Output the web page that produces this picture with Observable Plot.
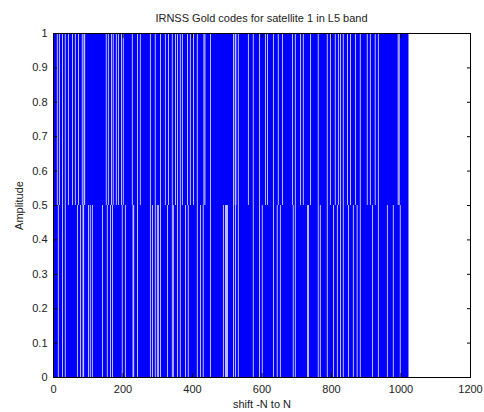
<!DOCTYPE html>
<html>
<head>
<meta charset="utf-8">
<script src="https://cdn.jsdelivr.net/npm/d3@7"></script>
<script src="https://cdn.jsdelivr.net/npm/@observablehq/plot@0.6"></script>
<style>
  body { margin: 0; background: #fff; }
  #title { width: 484px; box-sizing: border-box; padding: 12px 14px 0 53px; height: 28px;
           text-align: center; font: 11px "Liberation Sans", Arial, sans-serif; color: #222; line-height: 13px; }
</style>
</head>
<body>
<div id="title">IRNSS Gold codes for satellite 1 in L5 band</div>
<div id="chart"></div>
<script>
// Gold code chips (1..1023), amplitude 0..1
const codeLength = 1023;
// chip indices where the upper half (0.5–1) shows a gap
const topGaps = [11, 17, 26, 34, 43, 55, 63, 72, 83, 88, 90,
  152, 158, 167, 172, 181, 187, 196, 201,
  227, 242, 250, 279, 293, 308, 322, 331, 342, 351, 357, 365, 371, 386, 394, 403, 414, 433, 436, 452,
  518, 523, 525, 532, 561, 575, 593, 610, 616, 633, 647, 659, 688, 696, 711, 719, 740, 762, 788, 797,
  811, 820, 826, 834, 846, 855, 869, 883, 903, 912, 926, 935, 992, 995];
// chip indices where the lower half (0–0.5) shows a gap
const bottomGaps = [14, 26, 34, 69, 78, 85, 87, 101, 106, 112, 141, 155, 164, 170, 198, 207, 229, 231,
  242, 279, 285, 293, 299, 302, 308, 328, 342, 345, 357, 365, 380, 388, 414, 423, 431, 452, 489, 495,
  498, 501, 518, 524, 532, 575, 593, 601, 633, 644, 653, 690, 696, 731, 734, 762, 768, 788, 806, 817,
  826, 834, 849, 863, 874, 883, 918, 935, 961, 978, 998];
const xTicks = [0, 200, 400, 600, 800, 1000, 1200];
const yTicks = [0, 0.1, 0.2, 0.3, 0.4, 0.5, 0.6, 0.7, 0.8, 0.9, 1];
const code = [{start: 1, end: codeLength, low: 0, high: 1}];
const gapChips = 2.5;

const font = "'Liberation Sans', Arial, sans-serif";
const noLabel = () => "";
const chart = Plot.plot({
  width: 484, height: 384,
  marginTop: 5, marginBottom: 35, marginLeft: 53, marginRight: 14,
  style: {fontFamily: font, fontSize: "11px", color: "#222", background: "#fff"},
  x: {domain: [0, 1200]},
  y: {domain: [0, 1]},
  marks: [
    Plot.rect(code, {x1: "start", x2: "end", y1: "low", y2: "high", fill: "#0000ff"}),
    Plot.rect(topGaps, {x1: d => d, x2: d => d + gapChips, y1: 0.5, y2: 1, fill: "white", fillOpacity: 0.85}),
    Plot.rect(bottomGaps, {x1: d => d, x2: d => d + gapChips, y1: 0, y2: 0.5, fill: "white", fillOpacity: 0.85}),
    Plot.axisX(xTicks, {tickSize: -4, tickPadding: 12, tickFormat: d => String(d), label: "shift -N to N", labelAnchor: "center", labelArrow: "none", labelOffset: 30, stroke: "#000"}),
    Plot.axisX(xTicks, {anchor: "top", tickSize: -4, tickFormat: noLabel, label: null, stroke: "#000"}),
    Plot.axisY(yTicks, {tickSize: -4, tickPadding: 10, tickFormat: d => String(d), label: "Amplitude", labelAnchor: "center", labelArrow: "none", labelOffset: 38, stroke: "#000"}),
    Plot.axisY(yTicks, {anchor: "right", tickSize: -4, tickFormat: noLabel, label: null, stroke: "#000"}),
    Plot.frame({stroke: "#000"})
  ]
});
document.getElementById("chart").appendChild(chart);
</script>
</body>
</html>
